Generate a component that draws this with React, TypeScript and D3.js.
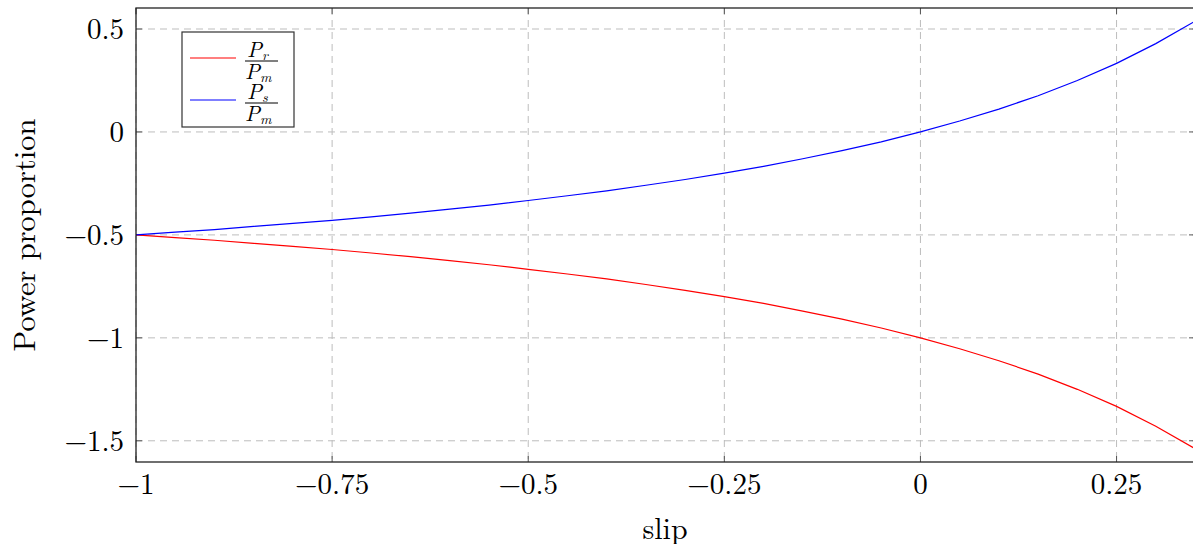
import React from "react";
import * as d3 from "d3";

// slip values and power ratios
const slip = [
  -1, -0.95, -0.9, -0.85, -0.8, -0.75, -0.7, -0.65, -0.6, -0.55, -0.5, -0.45,
  -0.4, -0.35, -0.3, -0.25, -0.2, -0.15, -0.1, -0.05, 0, 0.05, 0.1, 0.15, 0.2,
  0.25, 0.3, 0.35,
];
const rotorRatio = [
  -0.5, -0.513, -0.526, -0.541, -0.556, -0.571, -0.588, -0.606, -0.625, -0.645,
  -0.667, -0.69, -0.714, -0.741, -0.769, -0.8, -0.833, -0.87, -0.909, -0.952,
  -1, -1.053, -1.111, -1.176, -1.25, -1.333, -1.429, -1.538,
];
const statorRatio = [
  -0.5, -0.487, -0.474, -0.459, -0.444, -0.429, -0.412, -0.394, -0.375, -0.355,
  -0.333, -0.31, -0.286, -0.259, -0.231, -0.2, -0.167, -0.13, -0.091, -0.048,
  0, 0.053, 0.111, 0.176, 0.25, 0.333, 0.429, 0.538,
];
const xTicks = [-1, -0.75, -0.5, -0.25, 0, 0.25];
const yTicks = [0.5, 0, -0.5, -1, -1.5];

const fmt = (v: number) => (v < 0 ? "\u2212" + String(-v) : String(v));

const App = () => {
  const width = 1193;
  const height = 544;
  const left = 136;
  const right = 1195;
  const top = 8;
  const bottom = 462;

  const x = d3.scaleLinear().domain([-1, 0.35]).range([left, right]);
  const y = d3.scaleLinear().domain([-1.603, 0.602]).range([bottom, top]);

  const line = d3
    .line<number>()
    .x((_, i) => x(slip[i]))
    .y((d) => y(d));

  const font = "'Latin Modern Roman', 'CMU Serif', 'DejaVu Serif', serif";
  const grid = "#bdbdbd";

  return (
    <svg
      width={width}
      height={height}
      style={{ position: "absolute", left: 0, top: 0, background: "#fff" }}
      fontFamily={font}
    >
      <defs>
        <clipPath id="plot">
          <rect x={left} y={top} width={right - left} height={bottom - top} />
        </clipPath>
      </defs>
      {/* grid */}
      <g stroke={grid} strokeWidth={1} strokeDasharray="7,5">
        {xTicks.map((t, i) => (
          <line key={i} x1={x(t)} x2={x(t)} y1={top} y2={bottom} />
        ))}
        {yTicks.map((t, i) => (
          <line key={i} x1={left} x2={right} y1={y(t)} y2={y(t)} />
        ))}
      </g>
      {/* tick marks */}
      <g stroke="#555" strokeWidth={1}>
        {xTicks.map((t, i) => (
          <g key={i}>
            <line x1={x(t)} x2={x(t)} y1={bottom} y2={bottom - 6} />
            <line x1={x(t)} x2={x(t)} y1={top} y2={top + 6} />
          </g>
        ))}
        {yTicks.map((t, i) => (
          <g key={i}>
            <line x1={left} x2={left + 6} y1={y(t)} y2={y(t)} />
            <line x1={right - 6} x2={right} y1={y(t)} y2={y(t)} />
          </g>
        ))}
      </g>
      {/* curves */}
      <g clipPath="url(#plot)" fill="none" strokeWidth={1.2}>
        <path d={line(rotorRatio) || ""} stroke="#ff0000" />
        <path d={line(statorRatio) || ""} stroke="#0000ff" />
      </g>
      {/* frame */}
      <rect
        x={left}
        y={top}
        width={right - left}
        height={bottom - top}
        fill="none"
        stroke="#222"
        strokeWidth={1.3}
      />
      {/* tick labels */}
      <g fontSize={29} fill="#000">
        {xTicks.map((t, i) => (
          <text key={i} x={x(t)} y={bottom + 32} textAnchor="middle">
            {fmt(t)}
          </text>
        ))}
        {yTicks.map((t, i) => (
          <text key={i} x={left - 12} y={y(t) + 10} textAnchor="end">
            {fmt(t)}
          </text>
        ))}
      </g>
      {/* axis labels */}
      <text x={665} y={539} fontSize={30} textAnchor="middle">
        slip
      </text>
      <text
        transform={`translate(35,${(top + bottom) / 2}) rotate(-90)`}
        fontSize={30.5}
        textAnchor="middle"
      >
        Power proportion
      </text>
      {/* legend */}
      <g>
        <rect
          x={182}
          y={32}
          width={112}
          height={95}
          fill="#fff"
          stroke="#333"
          strokeWidth={1.2}
        />
        {[
          { color: "#ff0000", sub: "r", cy: 58 },
          { color: "#0000ff", sub: "s", cy: 100 },
        ].map((d, i) => (
          <g key={i}>
            <line x1={190} x2={236} y1={d.cy} y2={d.cy} stroke={d.color} strokeWidth={1.2} />
            <line x1={245} x2={278} y1={d.cy + 3} y2={d.cy + 3} stroke="#000" strokeWidth={1} />
            <text x={247} y={d.cy - 1} fontSize={22} fontStyle="italic">
              P
              <tspan fontSize={14} dy={3}>
                {d.sub}
              </tspan>
            </text>
            <text x={245} y={d.cy + 21} fontSize={22} fontStyle="italic">
              P
              <tspan fontSize={14} dy={3}>
                m
              </tspan>
            </text>
          </g>
        ))}
      </g>
    </svg>
  );
};

export default App;
